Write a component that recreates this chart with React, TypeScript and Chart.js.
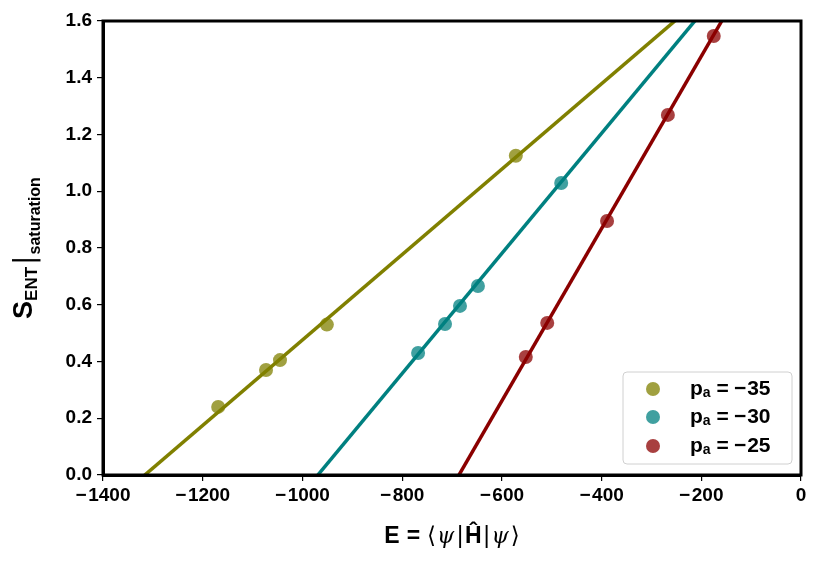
import React, { useEffect, useRef } from "react";
import { Chart, registerables } from "chart.js";

Chart.register(...registerables);

// Measured saturation entropy vs. energy for three values of p_a
const seriesLabels = ["−35", "−30", "−25"];
const lineColors = ["#808000", "#008080", "#8b0000"];
const pointColors = ["rgba(128,128,0,0.75)", "rgba(0,128,128,0.75)", "rgba(139,0,0,0.75)"];

const energyA = [-1169, -1073, -1045, -951, -572];
const entropyA = [0.24, 0.37, 0.405, 0.53, 1.125];
const energyB = [-768, -714, -684, -648, -481];
const entropyB = [0.43, 0.532, 0.596, 0.666, 1.029];
const energyC = [-552, -509, -389, -267, -175];
const entropyC = [0.416, 0.536, 0.895, 1.269, 1.547];

// Linear fits S = slope * E + intercept
const fitSlope = [0.0015052, 0.0021164, 0.003036];
const fitIntercept = [1.981, 2.0508, 2.0828];

const xTicks = [-1400, -1200, -1000, -800, -600, -400, -200, 0];
const yTicks = [0.0, 0.2, 0.4, 0.6, 0.8, 1.0, 1.2, 1.4, 1.6];

const FONT = "'Liberation Sans', Arial, sans-serif";
const GREEK = "italic 22px 'DejaVu Serif', serif";

const minus = (v: number) => (v < 0 ? "−\u200A" + Math.abs(v) : String(v));

// draws a run of [text, font, dy, gapAfter] segments starting at x
function drawRun(ctx: any, segs: [string, string, number, number][], x: number, y: number) {
  for (const [t, f, dy, gap] of segs) {
    ctx.font = f;
    ctx.fillText(t, x, y + dy);
    x += ctx.measureText(t).width + gap;
  }
  return x;
}
function runWidth(ctx: any, segs: [string, string, number, number][]) {
  let w = 0;
  for (const [t, f, , gap] of segs) {
    ctx.font = f;
    w += ctx.measureText(t).width + gap;
  }
  return w;
}

const framePlugin = {
  id: "frameAndTitles",
  afterDraw(chart: any) {
    const { ctx, chartArea } = chart;
    const { left, right, top, bottom } = chartArea;
    ctx.save();
    ctx.strokeStyle = "#000";
    ctx.lineWidth = 3;
    ctx.strokeRect(left, top, right - left, bottom - top);

    ctx.fillStyle = "#000";
    ctx.textBaseline = "alphabetic";
    ctx.textAlign = "left";

    // x title: E = ⟨ψ|Ĥ|ψ⟩
    const xSegs: [string, string, number, number][] = [
      ["E", `bold 23px ${FONT}`, 0, 7],
      ["=", `bold 23px ${FONT}`, 0, 7],
      ["⟨", `23px 'DejaVu Sans', sans-serif`, 0, 1],
      ["ψ", GREEK, 0, 2],
      ["|", `23px 'DejaVu Sans', sans-serif`, 0, 1],
      ["Ĥ", `bold 23px ${FONT}`, 0, 1],
      ["|", `23px 'DejaVu Sans', sans-serif`, 0, 1],
      ["ψ", GREEK, 0, 2],
      ["⟩", `23px 'DejaVu Sans', sans-serif`, 0, 0],
    ];
    const xw = runWidth(ctx, xSegs);
    drawRun(ctx, xSegs, (left + right) / 2 - xw / 2, 543);

    // y title: S_ENT |_saturation
    const ySegs: [string, string, number, number][] = [
      ["S", `bold 27px ${FONT}`, 0, 0],
      ["ENT", `bold 17px ${FONT}`, 5, 2],
      ["|", `28px 'DejaVu Sans', sans-serif`, 2, 1],
      ["saturation", `bold 16px ${FONT}`, 8, 0],
    ];
    const yw = runWidth(ctx, ySegs);
    ctx.translate(32, (top + bottom) / 2);
    ctx.rotate(-Math.PI / 2);
    drawRun(ctx, ySegs, -yw / 2, 0);
    ctx.restore();

    // legend
    ctx.save();
    const bx = 623, by = 372, bw = 169, bh = 92;
    ctx.fillStyle = "rgba(255,255,255,0.85)";
    ctx.strokeStyle = "#d0d0d0";
    ctx.lineWidth = 1;
    ctx.beginPath();
    ctx.roundRect(bx, by, bw, bh, 4);
    ctx.fill();
    ctx.stroke();
    const rows = [389, 417, 446];
    seriesLabels.forEach((lab, i) => {
      ctx.fillStyle = pointColors[i];
      ctx.beginPath();
      ctx.arc(653, rows[i], 7, 0, Math.PI * 2);
      ctx.fill();
      ctx.fillStyle = "#000";
      ctx.textBaseline = "middle";
      drawRun(
        ctx,
        [
          ["p", `bold 21px ${FONT}`, 0, 0],
          ["a", `bold 14px ${FONT}`, 4, 6],
          ["=", `bold 21px ${FONT}`, 0, 5],
          ["−", `bold 21px ${FONT}`, 0, 1],
          [lab.replace("−", ""), `bold 21px ${FONT}`, 0, 0],
        ],
        690,
        rows[i]
      );
    });
    ctx.restore();
  },
};

const energies = [energyA, energyB, energyC];
const entropies = [entropyA, entropyB, entropyC];

export default function App() {
  const ref = useRef<HTMLCanvasElement>(null);
  useEffect(() => {
    document.body.style.margin = "0";
    const datasets: any[] = [];
    for (let i = 0; i < 3; i++) {
      datasets.push({
        type: "line",
        label: "fit " + seriesLabels[i],
        data: [-1400, 0].map((e) => ({ x: e, y: fitSlope[i] * e + fitIntercept[i] })),
        borderColor: lineColors[i],
        borderWidth: 3.5,
        pointRadius: 0,
        fill: false,
        order: 2,
      });
    }
    for (let i = 0; i < 3; i++) {
      datasets.push({
        type: "scatter",
        label: "p_a = " + seriesLabels[i],
        data: energies[i].map((e, j) => ({ x: e, y: entropies[i][j] })),
        backgroundColor: pointColors[i],
        borderWidth: 0,
        pointRadius: 7,
        order: 1,
      });
    }
    const chart = new Chart(ref.current!, {
      type: "scatter",
      data: { datasets },
      plugins: [framePlugin],
      options: {
        animation: false,
        responsive: false,
        layout: { padding: { top: 21, right: 22, left: 0, bottom: 0 } },
        plugins: { legend: { display: false }, tooltip: { enabled: false } },
        scales: {
          x: {
            type: "linear",
            min: -1400,
            max: 0,
            afterBuildTicks: (s: any) => {
              s.ticks = xTicks.map((v) => ({ value: v }));
            },
            afterFit: (s: any) => {
              s.height = 99;
            },
            ticks: {
              color: "#000",
              font: { family: FONT, size: 19, weight: "bold" },
              padding: 3,
              maxRotation: 0,
              callback: (v: any) => minus(Number(v)),
            },
            grid: { drawOnChartArea: false, tickLength: 6, color: "#000", lineWidth: 1.2 },
            border: { display: true, color: "#000", width: 3 },
          },
          y: {
            type: "linear",
            min: 0,
            max: 1.6,
            afterBuildTicks: (s: any) => {
              s.ticks = yTicks.map((v) => ({ value: v }));
            },
            afterFit: (s: any) => {
              s.width = 103;
            },
            ticks: {
              color: "#000",
              font: { family: FONT, size: 19, weight: "bold" },
              padding: 5,
              callback: (v: any) => Number(v).toFixed(1),
            },
            grid: { drawOnChartArea: false, tickLength: 6, color: "#000", lineWidth: 1.2 },
            border: { display: true, color: "#000", width: 3 },
          },
        },
      },
    });
    return () => chart.destroy();
  }, []);
  return (
    <div style={{ width: 823, height: 574 }}>
      <canvas ref={ref} width={823} height={574} style={{ display: "block" }} />
    </div>
  );
}
